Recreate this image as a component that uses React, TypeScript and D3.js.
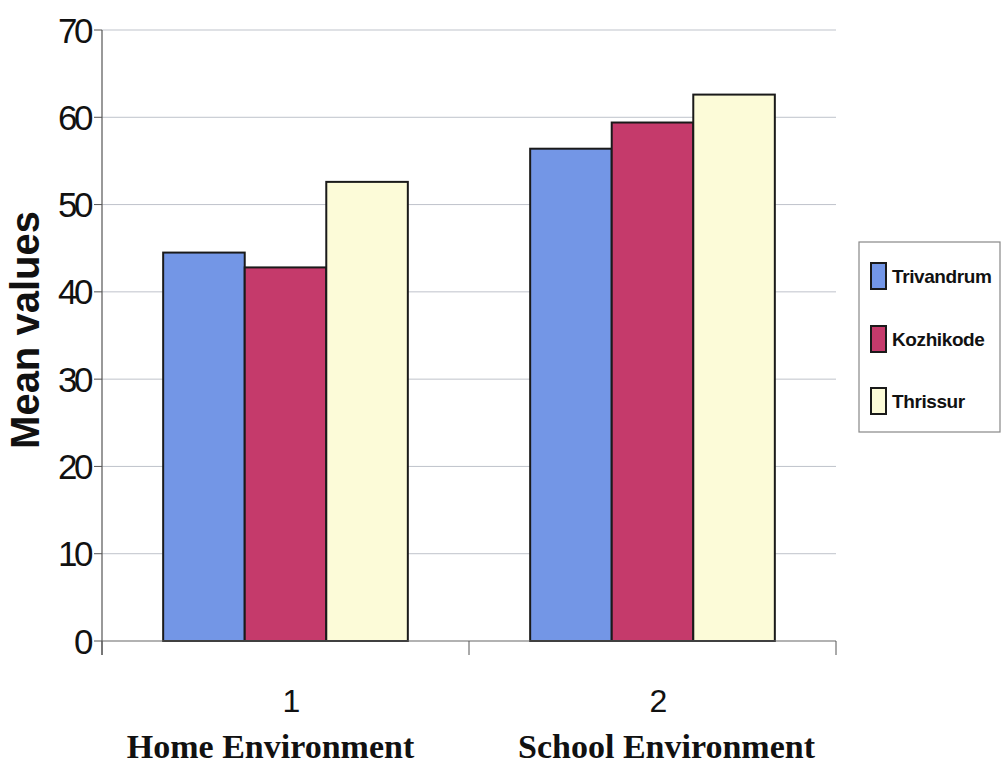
import React, { useEffect, useRef } from "react";
import * as d3 from "d3";

const categories = ["1", "2"];
const categoryNames = ["Home Environment", "School Environment"];
const seriesNames = ["Trivandrum", "Kozhikode", "Thrissur"];
const trivandrum = [44.5, 56.4];
const kozhikode = [42.8, 59.4];
const thrissur = [52.6, 62.6];
const yTicks = [0, 10, 20, 30, 40, 50, 60, 70];
const colors = ["#7396e6", "#c53a6b", "#fcfbd8"];

export default function App() {
  const ref = useRef<SVGSVGElement>(null);
  useEffect(() => {
    const svg = d3.select(ref.current);
    svg.selectAll("*").remove();
    const W = 1004, H = 771;
    const left = 102, right = 836, top = 30, bottom = 641;
    const y = d3.scaleLinear().domain([0, 70]).range([bottom, top]);
    const x0 = d3.scaleBand().domain(categories).range([left, right]).paddingInner(0).paddingOuter(0);
    const x1 = d3.scaleBand().domain(seriesNames).range([0, x0.bandwidth()]).paddingOuter(0.75).paddingInner(0);
    const seriesData = [trivandrum, kozhikode, thrissur];
    const sans = "Arial, 'Liberation Sans', sans-serif";

    svg.append("rect").attr("width", W).attr("height", H).attr("fill", "#fff");

    svg.append("g").selectAll("line").data(yTicks.filter(t => t > 0)).join("line")
      .attr("x1", left).attr("x2", right)
      .attr("y1", d => y(d)).attr("y2", d => y(d))
      .attr("stroke", "#bfc3cb").attr("stroke-width", 1);

    const g = svg.append("g");
    categories.forEach((c, ci) => {
      seriesNames.forEach((s, si) => {
        const v = seriesData[si][ci];
        g.append("rect")
          .attr("x", x0(c)! + x1(s)!)
          .attr("y", y(v))
          .attr("width", x1.bandwidth())
          .attr("height", y(0) - y(v))
          .attr("fill", colors[si])
          .attr("stroke", "#1a1a1a")
          .attr("stroke-width", 2);
      });
    });

    // y axis
    svg.append("line").attr("x1", left).attr("x2", left).attr("y1", top).attr("y2", bottom + 14)
      .attr("stroke", "#555").attr("stroke-width", 1.2);
    svg.append("g").selectAll("line").data(yTicks).join("line")
      .attr("x1", left - 8).attr("x2", left).attr("y1", d => y(d)).attr("y2", d => y(d))
      .attr("stroke", "#555");
    svg.append("g").selectAll("text").data(yTicks).join("text")
      .attr("x", 90).attr("y", d => y(d)).attr("dy", "0.36em")
      .attr("text-anchor", "end").attr("font-family", sans)
      .attr("font-size", 35).attr("letter-spacing", -3.5).attr("fill", "#111").text(d => d);

    // x axis
    svg.append("line").attr("x1", left).attr("x2", right).attr("y1", bottom).attr("y2", bottom)
      .attr("stroke", "#666").attr("stroke-width", 1.2);
    const xt = [left, ...categories.slice(1).map(c => x0(c)!), right];
    svg.append("g").selectAll("line").data(xt).join("line")
      .attr("x1", d => d).attr("x2", d => d).attr("y1", bottom).attr("y2", bottom + 14)
      .attr("stroke", "#555");
    svg.append("g").selectAll("text").data(categories).join("text")
      .attr("x", d => x0(d)! + x0.bandwidth() / 2 + 6).attr("y", 712)
      .attr("text-anchor", "middle").attr("font-family", sans)
      .attr("font-size", 32).attr("fill", "#111").text(d => d);
    svg.append("g").selectAll("text").data(categoryNames).join("text")
      .attr("x", (d, i) => x0(categories[i])! + x0.bandwidth() / 2 + (i === 0 ? -15 : 14)).attr("y", 758)
      .attr("text-anchor", "middle").attr("font-family", "'Times New Roman', 'Liberation Serif', serif")
      .attr("font-weight", "bold").attr("font-size", 34).attr("fill", "#111").text(d => d);

    // y title
    svg.append("text").attr("transform", `translate(39, 330) rotate(-90)`)
      .attr("text-anchor", "middle").attr("font-family", sans)
      .attr("font-weight", "bold").attr("font-size", 40).attr("fill", "#111").text("Mean values");

    // legend
    svg.append("rect").attr("x", 859).attr("y", 242).attr("width", 141).attr("height", 190)
      .attr("fill", "#fff").attr("stroke", "#888").attr("stroke-width", 1.2);
    const rowY = [276, 339, 401];
    seriesNames.forEach((s, i) => {
      svg.append("rect").attr("x", 871).attr("y", rowY[i] - 13).attr("width", 15).attr("height", 26)
        .attr("fill", colors[i]).attr("stroke", "#1a1a1a").attr("stroke-width", 2);
      svg.append("text").attr("x", 892).attr("y", rowY[i]).attr("dy", "0.36em")
        .attr("font-family", sans).attr("font-weight", "bold")
        .attr("font-size", 19).attr("letter-spacing", -0.4).attr("fill", "#111").text(s);
    });
  }, []);
  return (
    <svg ref={ref} width={1004} height={771}
      style={{ position: "absolute", left: 0, top: 0, display: "block" }} />
  );
}
